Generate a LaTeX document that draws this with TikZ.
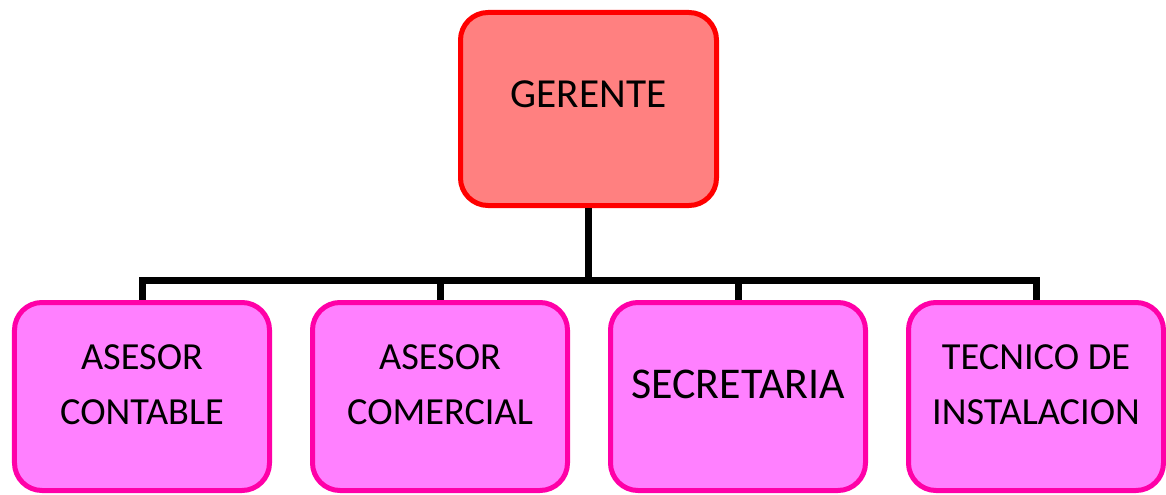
\documentclass[tikz,border=0pt]{standalone}
\usepackage{fontspec}
\setmainfont{Carlito}
\usepackage{xcolor}
\definecolor{jefered}{HTML}{FF0000}
\definecolor{jefefill}{HTML}{FF8080}
\definecolor{areaborde}{HTML}{FF00A8}
\definecolor{areafill}{HTML}{FF80FF}
\usepackage{tikz}
\usetikzlibrary{positioning, calc}

\begin{document}
\begin{tikzpicture}[
  cargo/.style={rectangle, rounded corners=0.55cm, line width=0.1cm,
    minimum width=5.1cm, minimum height=3.76cm, inner sep=0pt},
  jefebox/.style={cargo, draw=jefered, fill=jefefill,
    minimum width=5.12cm, minimum height=3.86cm},
  areabox/.style={cargo, draw=areaborde, fill=areafill},
  txt/.style={align=center, font=\fontsize{21.8}{31}\selectfont, yshift=0.24cm},
  conn/.style={line width=0.14cm, color=black}
]
\useasboundingbox (0,0) rectangle (23.32,-9.9);

\node[jefebox, label={[txt, font=\fontsize{23.5}{31}\selectfont, yshift=0.06cm]center:GERENTE}]
  (gerente) at (11.77,-2.18) {};

\node[areabox, label={[txt]center:ASESOR\\CONTABLE}] (contable) at (2.84,-7.93) {};
\node[areabox, label={[txt]center:ASESOR\\COMERCIAL}] (comercial) at (8.80,-7.93) {};
\node[areabox, label={[txt, font=\fontsize{25}{31}\selectfont]center:SECRETARIA}] (secretaria) at (14.76,-7.93) {};
\node[areabox, label={[txt]center:TECNICO DE\\INSTALACION}] (tecnico) at (20.72,-7.93) {};

\coordinate (bus) at (11.77,-5.6);

\draw[conn] (gerente.south) -- (bus);
\draw[conn] (contable.north) -- (contable.north |- bus) -- (tecnico.north |- bus) -- (tecnico.north);
\draw[conn] (comercial.north) -- (comercial.north |- bus);
\draw[conn] (secretaria.north) -- (secretaria.north |- bus);
\end{tikzpicture}
\end{document}
